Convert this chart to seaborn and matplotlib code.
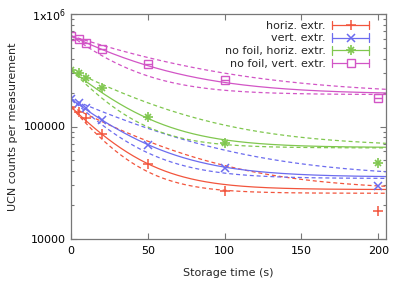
import numpy as np
import pandas as pd
import matplotlib
matplotlib.use("Agg")
import matplotlib.pyplot as plt
import seaborn as sns
from matplotlib.legend_handler import HandlerBase
from matplotlib.lines import Line2D
from matplotlib.ticker import FixedLocator, NullFormatter

# ---- data ----
times = [0, 5, 10, 20, 50, 100, 200]
horiz = [149000, 134000, 119000, 86000, 46400, 26700, 17700]
vert = [176000, 162000, 146000, 114000, 68500, 42800, 29600]
nofoil_horiz = [318000, 299000, 270000, 220000, 121000, 71000, 47000]
nofoil_vert = [637000, 600000, 552000, 489000, 359000, 259000, 179000]

labels = ["horiz. extr.", "vert. extr.", "no foil, horiz. extr.", "no foil, vert. extr."]

# fit curves  A*exp(-t/tau)+C : (A, tau, C) for central fit, upper band, lower band
horiz_fit = [(122000, 27, 27500), (123000, 52, 27000), (124000, 23, 25500)]
vert_fit = [(140000, 35, 35500), (141000, 60, 35000), (142000, 28, 34500)]
nofoil_horiz_fit = [(253000, 32, 65000), (252000, 52, 66000), (255000, 25, 64500)]
nofoil_vert_fit = [(447000, 47, 193000), (450000, 70, 190000), (448000, 31, 192000)]

colors = ["#f2553d", "#6c6cef", "#80c74f", "#d255c6"]
markers = ["+", "x", "*", "s"]

sns.set_style("ticks")
plt.rcParams["font.family"] = ["DejaVu Sans"]

fig = plt.figure(figsize=(4.15, 2.81), dpi=100)
ax = fig.add_axes([71 / 415, 42 / 281, 315 / 415, 225 / 281])

series = [horiz, vert, nofoil_horiz, nofoil_vert]
fits = [horiz_fit, vert_fit, nofoil_horiz_fit, nofoil_vert_fit]
tgrid = np.linspace(0, 205, 300)

for vals, fit, col, mk, lab in zip(series, fits, colors, markers, labels):
    for k, (A, tau, C) in enumerate(fit):
        df = pd.DataFrame({"t": tgrid, "y": A * np.exp(-tgrid / tau) + C})
        sns.lineplot(data=df, x="t", y="y", ax=ax, color=col, lw=0.9,
                     linestyle="-" if k == 0 else (0, (3.2, 2.3)), legend=False)
    dp = pd.DataFrame({"t": times, "y": vals})
    if mk == "s":
        ax.plot(dp["t"], dp["y"], ls="none", marker="s", ms=5.5, mfc="none",
                mec=col, mew=1.0)
        ax.plot(dp["t"], dp["y"], ls="none", marker="_", ms=5.5, color=col, mew=1.0)
    elif mk == "*":
        ax.plot(dp["t"], dp["y"], ls="none", marker="+", ms=7, color=col, mew=1.2)
        ax.plot(dp["t"], dp["y"], ls="none", marker="x", ms=5, color=col, mew=1.2)
    else:
        ax.plot(dp["t"], dp["y"], ls="none", marker=mk, ms=6.5 if mk == "+" else 5.5,
                color=col, mew=1.1)

ax.set_yscale("log")
ax.set_xlim(0, 205)
ax.set_ylim(1e4, 1e6)
ax.set_xticks([0, 50, 100, 150, 200])
ax.yaxis.set_major_locator(FixedLocator([1e4, 1e5, 1e6]))
ax.set_yticklabels(["10000", "100000", "1x10$^6$"])
minors = [m * 10 ** e for e in (4, 5) for m in range(2, 10)]
ax.yaxis.set_minor_locator(FixedLocator(minors))
ax.yaxis.set_minor_formatter(NullFormatter())
ax.tick_params(which="both", direction="in", top=True, right=True,
               colors="#777777", labelcolor="black", labelsize=8, width=0.8)
ax.tick_params(which="major", length=4.5)
ax.tick_params(which="minor", length=2.5)
ax.tick_params(axis="x", pad=5)
for s in ax.spines.values():
    s.set_color("#777777")
    s.set_linewidth(0.9)
ax.set_xlabel("Storage time (s)", fontsize=8, labelpad=9)
ax.set_ylabel("UCN counts per measurement", fontsize=8, labelpad=4.5)


class ErrHandler(HandlerBase):
    def create_artists(self, legend, orig_handle, xdescent, ydescent, width, height,
                       fontsize, trans):
        col = orig_handle.get_color()
        mk = orig_handle.get_marker()
        y = height / 2 - ydescent
        x0 = -xdescent
        x1 = x0 + width
        xm = (x0 + x1) / 2
        arts = [Line2D([x0, x1], [y, y], color=col, lw=0.9),
                Line2D([x0, x0], [y - 3, y + 3], color=col, lw=0.9),
                Line2D([x1, x1], [y - 3, y + 3], color=col, lw=0.9)]
        if mk == "s":
            arts.append(Line2D([xm], [y], marker="s", ms=5.5, mfc="white", mec=col, mew=1.0))
        elif mk == "*":
            arts.append(Line2D([xm], [y], marker="+", ms=7, color=col, mew=1.2))
            arts.append(Line2D([xm], [y], marker="x", ms=5, color=col, mew=1.2))
        else:
            arts.append(Line2D([xm], [y], marker=mk, ms=6.5 if mk == "+" else 5.5,
                               color=col, mew=1.1))
        for a in arts:
            a.set_transform(trans)
        return arts


handles = [Line2D([], [], color=c, marker=m) for c, m in zip(colors, markers)]
ax.legend(handles, labels, handler_map={Line2D: ErrHandler()}, loc="upper right",
          bbox_to_anchor=(0.967, 1.0), frameon=False, markerfirst=False,
          fontsize=8, handlelength=3.3, handletextpad=0.6, labelspacing=0.25,
          borderaxespad=0.2)

fig.savefig("out.png", dpi=100)
